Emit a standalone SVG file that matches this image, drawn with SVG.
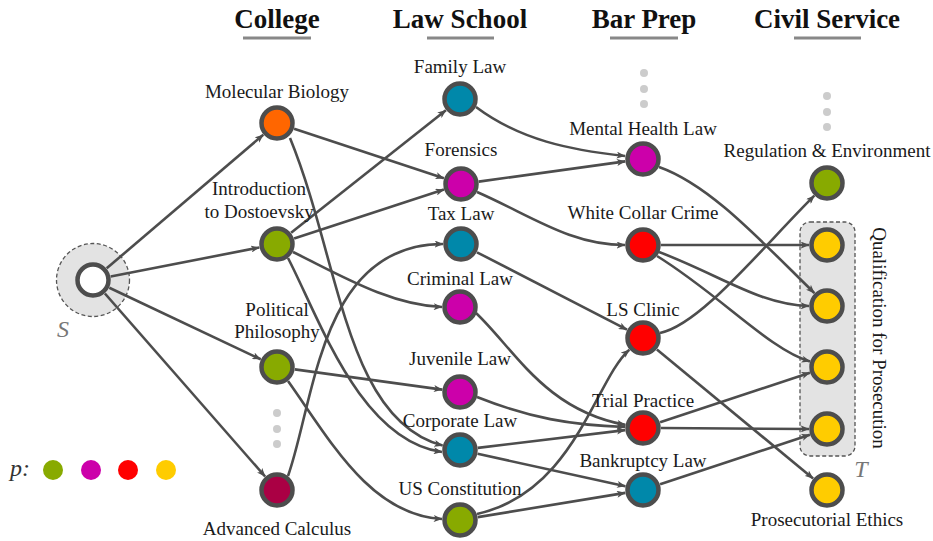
<svg xmlns="http://www.w3.org/2000/svg" width="933" height="541" viewBox="0 0 933 541">
<style>
.hdr{font-family:"Liberation Serif","DejaVu Serif","Times New Roman",serif;font-weight:bold;font-size:27px;fill:#111;text-anchor:middle}
.ul{stroke:#888;stroke-width:3}
.lbl{font-family:"Liberation Serif","DejaVu Serif","Times New Roman",serif;font-size:19px;fill:#1a1a1a;text-anchor:middle}
.e{fill:none;stroke:#4d4d4d;stroke-width:2.6;marker-end:url(#arr)}
.n{stroke:#4d4d4d;stroke-width:4.5}
.dot{fill:#cccccc}
.it{font-family:"Liberation Serif","DejaVu Serif","Times New Roman",serif;font-style:italic;font-size:24px;fill:#777}
</style>
<defs>
<marker id="arr" viewBox="0 0 10 8" refX="9.5" refY="4" markerWidth="9" markerHeight="7" markerUnits="userSpaceOnUse" orient="auto">
<path d="M0,0 L10,4 L0,8 L2.5,4 z" fill="#4d4d4d"/>
</marker>
</defs>
<rect width="933" height="541" fill="#ffffff"/>

<g id="headers">
<text class="hdr" x="277" y="28">College</text>
<line class="ul" x1="243" y1="38" x2="311" y2="38"/>
<text class="hdr" x="460" y="28">Law School</text>
<line class="ul" x1="427" y1="38" x2="494" y2="38"/>
<text class="hdr" x="644" y="28">Bar Prep</text>
<line class="ul" x1="610" y1="38" x2="678" y2="38"/>
<text class="hdr" x="827" y="28">Civil Service</text>
<line class="ul" x1="794" y1="38" x2="861" y2="38"/>
</g>

<g id="source-region">
<circle cx="93" cy="280" r="36.5" fill="#e3e3e3" stroke="#555" stroke-width="1.3" stroke-dasharray="4,2.5"/>
<text class="it" x="63" y="337" text-anchor="middle">S</text>
</g>

<g id="target-region">
<rect x="800" y="222" width="55" height="234" rx="10" ry="10" fill="#e3e3e3" stroke="#555" stroke-width="1.3" stroke-dasharray="4,2.5"/>
<text class="it" x="861" y="477" text-anchor="middle">T</text>
<text class="lbl" transform="translate(873,338) rotate(90)">Qualification for Prosecution</text>
</g>

<g id="dots">
<circle class="dot" cx="277" cy="413" r="4"/><circle class="dot" cx="277" cy="429" r="4"/><circle class="dot" cx="277" cy="444" r="4"/>
<circle class="dot" cx="644" cy="73" r="4"/><circle class="dot" cx="644" cy="89" r="4"/><circle class="dot" cx="644" cy="104" r="4"/>
<circle class="dot" cx="827" cy="96" r="4"/><circle class="dot" cx="827" cy="112" r="4"/><circle class="dot" cx="827" cy="127" r="4"/>
</g>

<g id="legend">
<text class="it" x="10" y="476" style="fill:#333">p:</text>
<circle cx="53" cy="470" r="10" fill="#88aa00"/>
<circle cx="91" cy="470" r="10" fill="#cc00aa"/>
<circle cx="128" cy="470" r="10" fill="#ff0000"/>
<circle cx="166" cy="470" r="10" fill="#ffcc00"/>
</g>

<g id="edges">
<path class="e" d="M106.7,268.3 L263.3,134.7"/>
<path class="e" d="M110.7,276.5 L259.3,247.5"/>
<path class="e" d="M109.3,287.7 L260.7,359.3"/>
<path class="e" d="M104.9,293.5 L265.1,476.5"/>
<path class="e" d="M294.1,128.7 L443.9,178.3"/>
<path class="e" d="M290,138 C340,260 345,420 442.6,445.6"/>
<path class="e" d="M291.1,232.8 L445.9,110.2"/>
<path class="e" d="M294.1,238.4 L443.9,189.6"/>
<path class="e" d="M293,252 C340,275 390,305 442,307"/>
<path class="e" d="M288,258 C320,320 360,440 442,452"/>
<path class="e" d="M294.8,369.4 L442.2,389.6"/>
<path class="e" d="M288,381 C330,440 370,515 442,519"/>
<path class="e" d="M288,476 C315,400 320,244 443,244"/>
<path class="e" d="M476,107 C520,140 570,150 625,156"/>
<path class="e" d="M478.8,181.6 L625.2,161.4"/>
<path class="e" d="M477,192 C530,215 570,245 625,245"/>
<path class="e" d="M477,252.3 L627,329.7"/>
<path class="e" d="M476,313 C515,350 545,410 625.3,424.9"/>
<path class="e" d="M477,397 C530,418 570,425 625,427"/>
<path class="e" d="M477.9,447.9 L625.1,430.1"/>
<path class="e" d="M477.6,453.8 L625.4,486.2"/>
<path class="e" d="M477,514 C575,492 595,380 629.3,349.7"/>
<path class="e" d="M477.8,517.1 L625.2,492.9"/>
<path class="e" d="M659,167 C710,185 760,240 814.4,293.1"/>
<path class="e" d="M661,245 L809,245"/>
<path class="e" d="M659,252 C720,275 760,305 809,306"/>
<path class="e" d="M657,256 C720,295 770,350 810,361.5"/>
<path class="e" d="M660,333 C700,325 760,250 814.3,195.7"/>
<path class="e" d="M656.9,349.5 L813.1,478.5"/>
<path class="e" d="M660.1,422.3 L809.9,372.7"/>
<path class="e" d="M661,428 L809,429"/>
<path class="e" d="M660.1,484.3 L809.9,434.7"/>
</g>

<g id="n-S"><circle class="n" cx="93" cy="280" r="15.5" fill="#ffffff"/></g>

<g id="n-molecular-biology"><circle class="n" cx="277" cy="123" r="15.5" fill="#ff6600"/><text class="lbl" x="277" y="98">Molecular Biology</text></g>
<g id="n-dostoevsky"><circle class="n" cx="277" cy="244" r="15.5" fill="#88aa00"/><text class="lbl" x="259" y="195">Introduction</text><text class="lbl" x="259" y="218">to Dostoevsky</text></g>
<g id="n-political-philosophy"><circle class="n" cx="277" cy="367" r="15.5" fill="#88aa00"/><text class="lbl" x="277" y="316">Political</text><text class="lbl" x="277" y="338">Philosophy</text></g>
<g id="n-advanced-calculus"><circle class="n" cx="277" cy="490" r="15.5" fill="#aa0044"/><text class="lbl" x="277" y="535">Advanced Calculus</text></g>

<g id="n-family-law"><circle class="n" cx="460" cy="99" r="15.5" fill="#0088aa"/><text class="lbl" x="460" y="73">Family Law</text></g>
<g id="n-forensics"><circle class="n" cx="461" cy="184" r="15.5" fill="#cc00aa"/><text class="lbl" x="461" y="156">Forensics</text></g>
<g id="n-tax-law"><circle class="n" cx="461" cy="244" r="15.5" fill="#0088aa"/><text class="lbl" x="461" y="220">Tax Law</text></g>
<g id="n-criminal-law"><circle class="n" cx="460" cy="307" r="15.5" fill="#cc00aa"/><text class="lbl" x="460" y="285">Criminal Law</text></g>
<g id="n-juvenile-law"><circle class="n" cx="460" cy="392" r="15.5" fill="#cc00aa"/><text class="lbl" x="460" y="365">Juvenile Law</text></g>
<g id="n-corporate-law"><circle class="n" cx="460" cy="450" r="15.5" fill="#0088aa"/><text class="lbl" x="460" y="427">Corporate Law</text></g>
<g id="n-us-constitution"><circle class="n" cx="460" cy="520" r="15.5" fill="#88aa00"/><text class="lbl" x="460" y="495">US Constitution</text></g>

<g id="n-mental-health-law"><circle class="n" cx="643" cy="159" r="15.5" fill="#cc00aa"/><text class="lbl" x="643" y="135">Mental Health Law</text></g>
<g id="n-white-collar-crime"><circle class="n" cx="643" cy="245" r="15.5" fill="#ff0000"/><text class="lbl" x="643" y="219">White Collar Crime</text></g>
<g id="n-ls-clinic"><circle class="n" cx="643" cy="338" r="15.5" fill="#ff0000"/><text class="lbl" x="643" y="316">LS Clinic</text></g>
<g id="n-trial-practice"><circle class="n" cx="643" cy="428" r="15.5" fill="#ff0000"/><text class="lbl" x="643" y="407">Trial Practice</text></g>
<g id="n-bankruptcy-law"><circle class="n" cx="643" cy="490" r="15.5" fill="#0088aa"/><text class="lbl" x="643" y="467">Bankruptcy Law</text></g>

<g id="n-regulation"><circle class="n" cx="827" cy="183" r="15.5" fill="#88aa00"/><text class="lbl" x="827" y="157">Regulation &amp; Environment</text></g>
<g id="n-q1"><circle class="n" cx="827" cy="245" r="15.5" fill="#ffcc00"/></g>
<g id="n-q2"><circle class="n" cx="827" cy="306" r="15.5" fill="#ffcc00"/></g>
<g id="n-q3"><circle class="n" cx="827" cy="367" r="15.5" fill="#ffcc00"/></g>
<g id="n-q4"><circle class="n" cx="827" cy="429" r="15.5" fill="#ffcc00"/></g>
<g id="n-prosecutorial-ethics"><circle class="n" cx="827" cy="490" r="15.5" fill="#ffcc00"/><text class="lbl" x="827" y="526">Prosecutorial Ethics</text></g>
</svg>
